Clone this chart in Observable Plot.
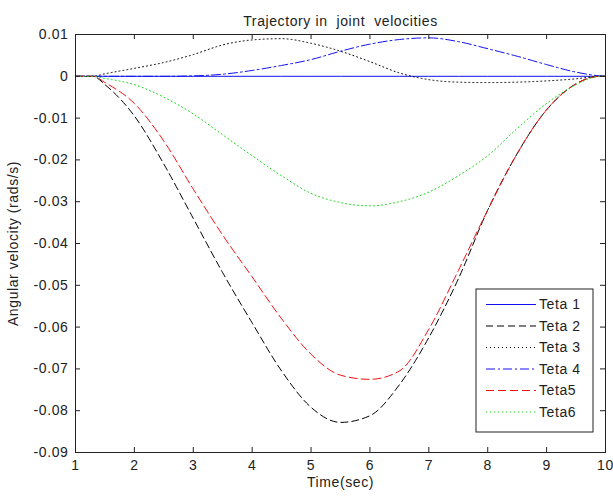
<!DOCTYPE html>
<html>
<head>
<meta charset="utf-8">
<script src="https://cdn.jsdelivr.net/npm/d3@7"></script>
<script src="https://cdn.jsdelivr.net/npm/@observablehq/plot@0.6"></script>
<style>
  html, body { margin: 0; padding: 0; background: #fff; }
  #chart svg text { white-space: pre; }
</style>
</head>
<body>
<div id="chart"></div>
<script>
// ---- data ----
const titleText = "Trajectory in  joint  velocities";
const xLabel = "Time(sec)";
const yLabel = "Angular velocity (rads/s)";
const xTicks = [1, 2, 3, 4, 5, 6, 7, 8, 9, 10];
const yTicks = [0.01, 0, -0.01, -0.02, -0.03, -0.04, -0.05, -0.06, -0.07, -0.08, -0.09];
const times  = [1, 1.3, 1.5, 2, 2.5, 3, 3.5, 4, 4.5, 5, 5.5, 6, 6.5, 7, 7.5, 8, 8.5, 9, 9.5, 9.9, 10];
const teta1  = [0, 0, 0, 0, 0, 0, 0, 0, 0, 0, 0, 0, 0, 0, 0, 0, 0, 0, 0, 0, 0];
const teta2  = [0, 0, -0.002, -0.0095, -0.021, -0.034, -0.047, -0.059, -0.0705, -0.0792, -0.0828, -0.0812, -0.0738, -0.0625, -0.0485, -0.032, -0.0185, -0.008, -0.0018, 0, 0];
const teta3  = [0, 0, 0.0006, 0.0019, 0.0033, 0.0052, 0.0075, 0.0087, 0.009, 0.0079, 0.006, 0.0035, 0.0008, -0.0008, -0.0014, -0.0015, -0.0014, -0.0011, -0.0006, 0, 0];
const teta4  = [0, 0, 0, 0, 0, 0.0001, 0.0005, 0.0014, 0.0026, 0.004, 0.006, 0.0077, 0.0088, 0.0092, 0.0083, 0.0066, 0.0048, 0.0028, 0.001, 0.0001, 0];
const teta5  = [0, 0, -0.0015, -0.0065, -0.0155, -0.027, -0.038, -0.048, -0.058, -0.0665, -0.0715, -0.0725, -0.0705, -0.0605, -0.0465, -0.032, -0.0185, -0.008, -0.0018, 0, 0];
const teta6  = [0, 0, -0.0005, -0.002, -0.005, -0.009, -0.014, -0.019, -0.0238, -0.028, -0.0302, -0.031, -0.030, -0.0277, -0.0238, -0.019, -0.0125, -0.0065, -0.002, 0, 0];
const seriesNames = ["Teta 1", "Teta 2", "Teta 3", "Teta 4", "Teta5", "Teta6"];
const seriesValues = [teta1, teta2, teta3, teta4, teta5, teta6];

// ---- styles ----
const styles = [
  {stroke: "#1010f0", dash: null},
  {stroke: "#000000", dash: "7,4"},
  {stroke: "#000000", dash: "1,3"},
  {stroke: "#1010f0", dash: "9,3,2,3"},
  {stroke: "#f01010", dash: "8,4"},
  {stroke: "#10d810", dash: "1,3"}
];

const W = 613, H = 500, mT = 34, mB = 48, mL = 75, mR = 8;
const frameW = W - mL - mR, frameH = H - mT - mB, tk = 5;
const fmt = d => d === 0 ? "0" : String(d);

const lineMarks = seriesValues.map((vals, k) =>
  Plot.line(times.map((t, i) => ({t, v: vals[i]})), {
    x: "t", y: "v", curve: "monotone-x",
    stroke: styles[k].stroke, strokeWidth: 1,
    strokeDasharray: styles[k].dash
  })
);

const chart = Plot.plot({
  width: W, height: H,
  marginTop: mT, marginBottom: mB, marginLeft: mL, marginRight: mR,
  x: {domain: [1, 10]},
  y: {domain: [-0.09, 0.01]},
  style: {fontFamily: "'Liberation Sans', Arial, sans-serif", fontSize: "14px", letterSpacing: "0.6px", color: "#222", background: "#fff"},
  marks: [
    ...lineMarks,
    Plot.frame({stroke: "#222", strokeWidth: 1}),
    Plot.tickX(xTicks, {x: d => d, insetTop: frameH - tk, stroke: "#222"}),
    Plot.tickX(xTicks, {x: d => d, insetBottom: frameH - tk, stroke: "#222"}),
    Plot.tickY(yTicks, {y: d => d, insetRight: frameW - tk, stroke: "#222"}),
    Plot.tickY(yTicks, {y: d => d, insetLeft: frameW - tk, stroke: "#222"}),
    Plot.axisX({ticks: xTicks, tickSize: 0, tickPadding: 8, fontSize: 14, tickFormat: fmt,
      label: xLabel, labelAnchor: "center", labelOffset: 34, labelArrow: "none"}),
    Plot.axisY({ticks: yTicks, tickSize: 0, tickPadding: 7, fontSize: 14, tickFormat: fmt,
      label: yLabel, labelAnchor: "center", labelOffset: 67, labelArrow: "none"}),
    Plot.text([titleText], {text: d => d, frameAnchor: "top", dy: -18, fontSize: 14, fill: "#222"})
  ]
});
document.getElementById("chart").appendChild(chart);

// ---- legend (inside the plot, lower right) ----
const svg = d3.select(chart);
const lg = {x: 476, y: 289, w: 117, h: 143, row: 21.5, first: 15.5, lineX0: 10, lineX1: 60, textX: 63};
const g = svg.append("g").attr("transform", `translate(${lg.x},${lg.y})`);
g.append("rect").attr("width", lg.w).attr("height", lg.h)
  .attr("fill", "#fff").attr("stroke", "#222").attr("stroke-width", 1);
seriesNames.forEach((name, k) => {
  const yy = lg.first + k * lg.row;
  g.append("line").attr("x1", lg.lineX0).attr("x2", lg.lineX1).attr("y1", yy).attr("y2", yy)
    .attr("stroke", styles[k].stroke).attr("stroke-width", 1)
    .attr("stroke-dasharray", styles[k].dash);
  g.append("text").attr("x", lg.textX).attr("y", yy).attr("dy", "0.35em")
    .attr("text-anchor", "start").attr("font-size", 14).attr("fill", "#222").text(name);
});
</script>
</body>
</html>
